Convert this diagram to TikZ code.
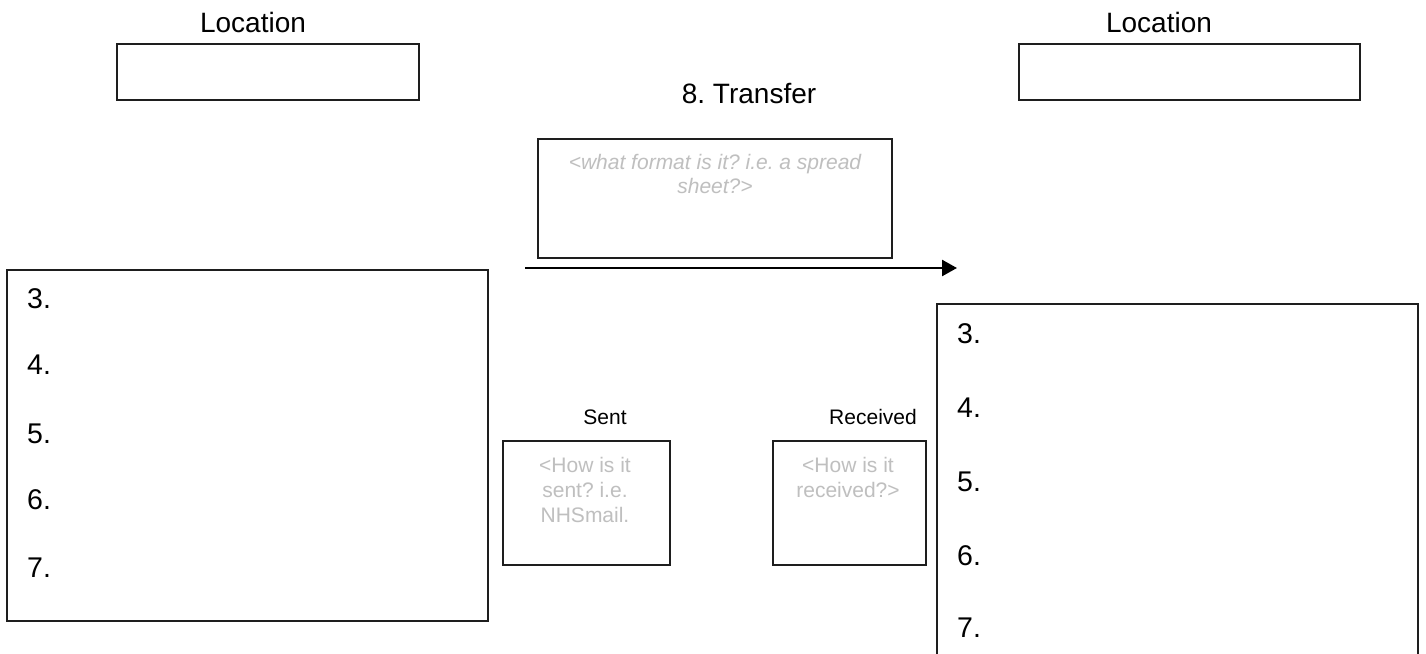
\documentclass[tikz,border=0pt]{standalone}
\usepackage{fontspec}
\setmainfont{Liberation Sans}
\usetikzlibrary{arrows.meta}
\definecolor{hint}{RGB}{191,191,191}
\definecolor{edge}{RGB}{30,30,30}
\frenchspacing
\begin{document}
\frenchspacing
\begin{tikzpicture}[x=1pt,y=-1pt,
  box/.style={draw=edge, line width=1.6pt, rectangle, inner sep=0pt, anchor=north west},
  lbl/.style={inner sep=0pt, anchor=base, font=\fontsize{28}{33}\selectfont},
  num/.style={inner sep=0pt, anchor=base west, font=\fontsize{28.5}{33}\selectfont},
  small/.style={inner sep=0pt, anchor=base, font=\fontsize{21}{24.5}\selectfont},
  hinttext/.style={inner sep=0pt, anchor=base, text=hint, font=\fontsize{21}{24.5}\selectfont},
  flow/.style={line width=2.5pt, -{Triangle[length=15pt,width=16pt]}}
]
\useasboundingbox (0,0) rectangle (1426,653);
\fill[white] (0,0) rectangle (1426,653);

% Location boxes
\node[lbl] (locLt) at (253,32) {Location};
\node[box, minimum width=302pt, minimum height=56pt] (locL) at (116,43) {};
\node[lbl] (locRt) at (1159,32) {Location};
\node[box, minimum width=341pt, minimum height=56pt] (locR) at (1018,43) {};

% Transfer
\node[lbl] (trt) at (749,103) {8. Transfer};
\node[box, minimum width=354pt, minimum height=119pt] (tr) at (537,138) {};
\node[hinttext, font=\fontsize{21}{24.5}\selectfont\itshape] (trh1) at (715,169) {<what format is it? i.e. a spread};
\node[hinttext, font=\fontsize{21}{24.5}\selectfont\itshape] (trh2) at (715,193) {sheet?>};

\coordinate (arS) at (525,268);
\coordinate (arE) at (957,268);
\draw[flow] (arS) -- (arE);

% Left list box
\node[box, minimum width=481pt, minimum height=351pt] (listL) at (6,269) {};
\node[num] (l3) at (27,308) {3.};
\node[num] (l4) at (27,374) {4.};
\node[num] (l5) at (27,443) {5.};
\node[num] (l6) at (27,509) {6.};
\node[num] (l7) at (27,577) {7.};

% Right list box (continues past the lower edge)
\node[box, minimum width=481pt, minimum height=380pt] (listR) at (936,303) {};
\node[num] (r3) at (957,343) {3.};
\node[num] (r4) at (957,417) {4.};
\node[num] (r5) at (957,491) {5.};
\node[num] (r6) at (957,565) {6.};
\node[num] (r7) at (957,637) {7.};

% Sent
\node[small] (sentt) at (605,424) {Sent};
\node[box, minimum width=167pt, minimum height=124pt] (sent) at (502,440) {};
\node[hinttext] (sh1) at (585,472) {<How is it};
\node[hinttext] (sh2) at (585,497) {sent? i.e.};
\node[hinttext] (sh3) at (585,522) {NHSmail.};

% Received
\node[small] (rect) at (873,424) {Received};
\node[box, minimum width=153pt, minimum height=124pt] (rec) at (772,440) {};
\node[hinttext] (rh1) at (848,472) {<How is it};
\node[hinttext] (rh2) at (848,497) {received?>};
\end{tikzpicture}
\end{document}
